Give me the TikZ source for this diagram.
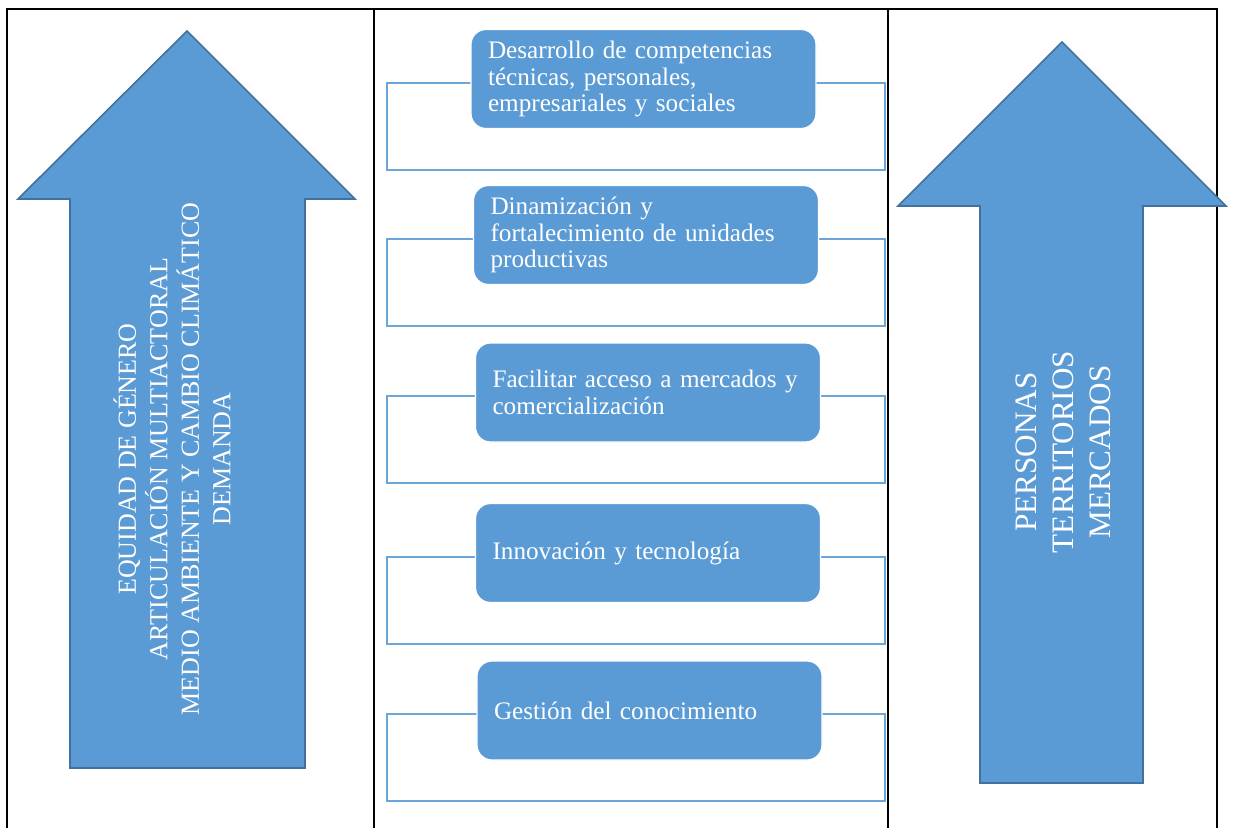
\documentclass[tikz,border=0pt]{standalone}
\usepackage{fontspec}
\setmainfont{Liberation Serif}
\definecolor{boxblue}{HTML}{5B9BD5}
\definecolor{edgeblue}{HTML}{41719C}
\begin{document}
\begin{tikzpicture}[x=0.5pt,y=-0.5pt,
    stage/.style={fill=boxblue,draw=white,line width=0.6pt,rounded corners=7.5pt,minimum width=172.5pt,minimum height=49.5pt,text width=155.5pt,inner xsep=8.5pt,align=left,text=white,font=\fontsize{12.6}{13.4}\selectfont},
    frame/.style={draw=boxblue!90!white,line width=1pt},
    bigarrow/.style={fill=boxblue,draw=edgeblue,line width=0.8pt,line join=miter},
    arrowtext/.style={rotate=90,align=center,text=white,inner sep=0pt},
    tableline/.style={line width=1pt}]
  \useasboundingbox (0,0) rectangle (1235,828);
  % table
  \draw[tableline] (7,828) -- (7,9) -- (1217,9) -- (1217,828);
  \draw[tableline] (374,9) -- (374,828);
  \draw[tableline] (888,9) -- (888,828);
  % left arrow
  \draw[bigarrow] (70,768) -- (70,199) -- (18,199) -- (187,31) -- (355,199) -- (305,199) -- (305,768) -- cycle;
  \node[arrowtext,font=\fontsize{13}{15.75}\selectfont] (ejes) at (172,459) {EQUIDAD DE GÉNERO\\ARTICULACIÓN MULTIACTORAL\\MEDIO AMBIENTE Y CAMBIO CLIMÁTICO\\DEMANDA};
  % right arrow
  \draw[bigarrow] (980,783) -- (980,206) -- (898,206) -- (1062,42) -- (1226,206) -- (1143,206) -- (1143,783) -- cycle;
  \node[arrowtext,font=\fontsize{15.6}{18.5}\selectfont] (focos) at (1063,452) {PERSONAS\\TERRITORIOS\\MERCADOS};
  % frames behind the boxes
  \foreach \y in {79,235,392,553,710}
    \draw[frame] (387,\y+4) rectangle (885,\y+91);
  % boxes
  \node[stage] (competencias) at (643.5,79) {Desarrollo de competencias\\técnicas, personales,\\empresariales y sociales};
  \node[stage] (dinamizacion) at (646,235) {Dinamización y\\fortalecimiento de unidades\\productivas};
  \node[stage] (mercados) at (648,392.5) {Facilitar acceso a mercados y\\comercialización};
  \node[stage] (innovacion) at (648,553) {Innovación y tecnología};
  \node[stage] (gestion) at (649.5,710.5) {Gestión del conocimiento};
\end{tikzpicture}
\end{document}
